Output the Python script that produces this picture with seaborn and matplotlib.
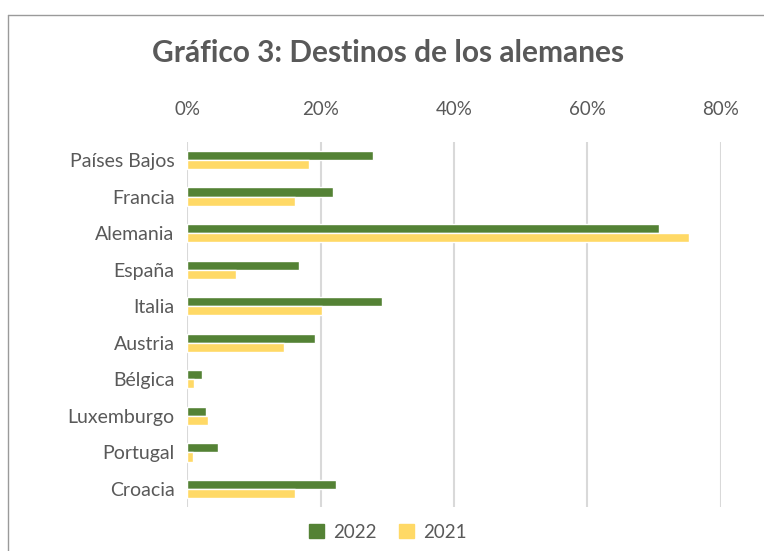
import matplotlib
matplotlib.use("Agg")
import matplotlib.pyplot as plt
import seaborn as sns
import pandas as pd
from matplotlib.lines import Line2D
from matplotlib.ticker import PercentFormatter

countries = ["Países Bajos", "Francia", "Alemania", "España", "Italia",
             "Austria", "Bélgica", "Luxemburgo", "Portugal", "Croacia"]
share_2022 = [27.8, 21.9, 70.7, 16.8, 29.2, 19.2, 2.2, 2.9, 4.7, 22.3]
share_2021 = [18.2, 16.2, 75.2, 7.3, 20.2, 14.6, 1.0, 3.1, 0.9, 16.2]
years = ["2022", "2021"]

df = pd.DataFrame({
    "country": countries * 2,
    "share": share_2022 + share_2021,
    "year": [years[0]] * len(countries) + [years[1]] * len(countries),
})

sns.set_theme(style="white")
plt.rcParams["font.family"] = ["Lato", "DejaVu Sans"]
text_col = "#595959"

fig = plt.figure(figsize=(7.64, 5.51), dpi=100)
ax = fig.add_axes([0.2448, 0.0793, 0.6989, 0.6635])

sns.barplot(data=df, y="country", x="share", hue="year", hue_order=years,
            palette=["#548235", "#FFD966"], width=0.5, orient="h",
            saturation=1, ax=ax, legend=False)

ax.set_xlim(0, 80)
ax.set_xticks([0, 20, 40, 60, 80])
ax.xaxis.set_major_formatter(PercentFormatter(decimals=0))
ax.xaxis.tick_top()
ax.tick_params(axis="x", length=0, pad=17, labelsize=13.5, labelcolor=text_col)
ax.tick_params(axis="y", length=0, pad=9, labelsize=14, labelcolor=text_col)
ax.set_xlabel("")
ax.set_ylabel("")
ax.grid(axis="x", color="#d9d9d9", linewidth=1.5)
ax.set_axisbelow(True)
for s in ax.spines.values():
    s.set_visible(False)

fig.text(388 / 764, 1 - 53 / 551, "Gráfico 3: Destinos de los alemanes",
         ha="center", va="center", fontsize=21.5, fontweight="bold", color=text_col)

# legend
handles = [plt.Rectangle((0, 0), 1, 1, color=c) for c in ["#548235", "#FFD966"]]
fig.legend(handles, years, loc="center", bbox_to_anchor=(388 / 764, 1 - 532 / 551),
           ncol=2, frameon=False, fontsize=13.5, labelcolor=text_col,
           handlelength=0.8, handleheight=0.8, columnspacing=1.2, handletextpad=0.5)

# outer frame
fig.add_artist(Line2D([8 / 764, 8 / 764], [1 - 15 / 551, 0], color="#9a9a9a", lw=1))
fig.add_artist(Line2D([8 / 764, 1], [1 - 15 / 551, 1 - 15 / 551], color="#9a9a9a", lw=1))

fig.savefig("out.png", dpi=100)
